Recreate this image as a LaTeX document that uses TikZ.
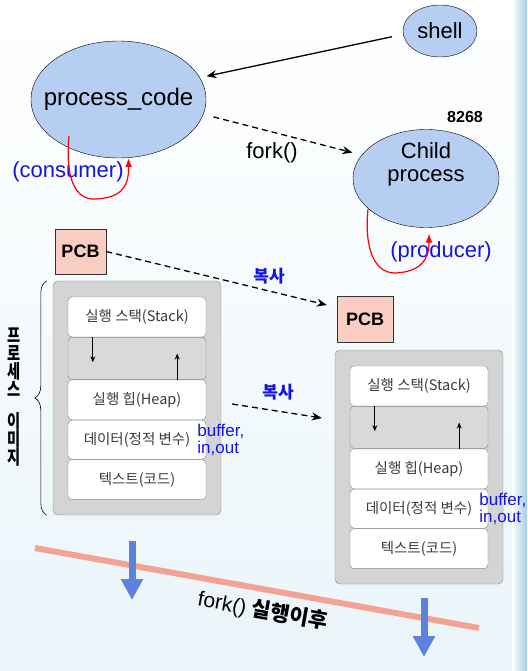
\documentclass[tikz,border=0pt]{standalone}
\usepackage{fontspec}
\setmainfont{Liberation Sans}
\newfontfamily\kr{Noto Sans CJK KR}
\usetikzlibrary{shapes.geometric,arrows.meta,positioning,decorations.pathreplacing}
\definecolor{procblue}{RGB}{182,206,242}
\definecolor{pcbpink}{RGB}{250,205,195}
\definecolor{txtblue}{RGB}{20,20,225}
\definecolor{salmon}{RGB}{244,162,146}
\definecolor{arrblue}{RGB}{92,130,222}
\definecolor{boxgray}{RGB}{212,212,212}
\definecolor{edgegray}{RGB}{135,135,135}
\definecolor{segtext}{RGB}{60,60,60}
\definecolor{bgblue}{RGB}{234,245,250}
\definecolor{stripblue}{RGB}{165,202,228}

\begin{document}
\begin{tikzpicture}[x=1pt,y=-1pt,
  proc/.style={ellipse, draw=black, fill=procblue, inner sep=0pt},
  big/.style={font=\fontsize{22}{23}\selectfont},
  lbl/.style={big, text=txtblue},
  pcb/.style={draw=black!80, fill=pcbpink, minimum width=51pt, minimum height=45pt, font=\fontsize{18}{20}\selectfont\bfseries},
  image/.style={draw=edgegray, fill=boxgray, rounded corners=5pt, minimum width=168pt, minimum height=234pt},
  seg/.style={draw=edgegray, fill=white, rounded corners=4pt, minimum width=138pt, inner sep=0pt, font=\kr\fontsize{14.5}{16}\selectfont, text=segtext},
  gapseg/.style={seg, fill=black!15},
  note/.style={text=txtblue, font=\fontsize{17}{16.5}\selectfont, align=left, inner sep=0pt},
  copylbl/.style={text=txtblue, font=\kr\bfseries\fontsize{17}{19}\selectfont},
  blk/.style={-{Stealth[length=10pt,width=8pt]}, line width=1.3pt},
  dsh/.style={-{Stealth[length=10pt,width=8pt]}, line width=1.3pt, dash pattern=on 6pt off 4pt},
  small/.style={-{Stealth[length=6pt,width=5pt]}, line width=.8pt},
  redloop/.style={red, line width=1.2pt, -{Latex[length=9pt,width=7pt]}}
]
\useasboundingbox (0,0) rectangle (527,671);
\shade[top color=white, bottom color=bgblue] (0,0) rectangle (527,671);
\shade[left color=white, right color=stripblue] (512,0) rectangle (527,671);

\node[proc, minimum width=74pt, minimum height=52pt, big] (shell) at (440,31) {shell};
\node[proc, minimum width=175pt, minimum height=117pt] (pc) at (118.5,99.5) {};
\node[font=\fontsize{24}{26}\selectfont] (pctxt) at (pc) {process\_code};
\node[proc, minimum width=146pt, minimum height=98pt] (child) at (426,178.5) {};
\node[big, align=center] (childtxt) at (426,164) {Child\\process};
\node[font=\bfseries\fontsize{16}{18}\selectfont] (pid) at (465,117) {8268};

\draw[blk, shorten <=49pt, shorten >=90pt] ([yshift=4.5pt]shell.center) -- ([yshift=4.5pt]pc.center);
\draw[dsh, shorten <=98pt, shorten >=76pt] ([yshift=7pt]pc.center) -- ([yshift=7pt]child.center);
\node[big] (fork) at (272,153) {fork()};

\node[lbl] (cons) at (68,172) {(consumer)};
\node[lbl] (prod) at (441,252) {(producer)};
\coordinate (consstart) at (69,136);
\coordinate (prodstart) at (368,209);
\draw[redloop] (consstart) .. controls (65,180) and (76,200) .. (95,199) .. controls (118,198) and (129,190) .. ([xshift=10pt]pc.south);
\draw[redloop] (prodstart) .. controls (364,250) and (375,273) .. (395,273) .. controls (418,272) and (429,262) .. ([shift={(3pt,-6pt)}]child.south);

\node[pcb] (pcbL) at (80.5,251.5) {PCB};
\node[pcb, minimum width=56pt, minimum height=46pt] (pcbR) at (365,319) {PCB};

\foreach \s/\ox/\oy in {L/53/281, R/335/350} {
  \node[image] (box\s) at (\ox+84,\oy+117) {};
  \node[seg, minimum height=40pt, below=16pt of box\s.north] (stack\s) {실행 스택(Stack)};
  \node[gapseg, minimum height=42pt, below=0pt of stack\s] (gap\s) {};
  \node[seg, minimum height=40pt, below=0pt of gap\s] (heap\s) {실행 힙(Heap)};
  \node[seg, minimum height=39pt, below=0pt of heap\s] (data\s) {데이터(정적 변수)};
  \node[seg, minimum height=40pt, below=0pt of data\s] (text\s) {텍스트(코드)};
  \draw[small] ([xshift=25pt]gap\s.north west) -- ++(0,25);
  \draw[small] ([xshift=-29pt]heap\s.north east) -- ++(0,-26);
  \node[note, anchor=west] (buf\s) at ([xshift=-9pt]data\s.east) {buffer,\\in,out};
}

\draw[dsh] (pcbL.east) -- ([xshift=-10pt,yshift=14pt]pcbR.west);
\node[copylbl] (copy1) at (269,276) {복사};
\draw[dsh] ([xshift=11pt,yshift=-6pt]boxL.east) -- ([xshift=-13pt,yshift=49pt]boxR.west);
\node[copylbl] (copy2) at (278,392) {복사};

\draw[decorate, decoration={brace, amplitude=12pt}, semithick] ([xshift=-6pt]boxL.south west) -- ([xshift=-6pt]boxL.north west);
\node[font=\kr\bfseries\fontsize{19}{18}\selectfont, align=center, xscale=.75, inner sep=0pt] (title) at (14,397) {프\\로\\세\\스\\[14pt]이\\미\\지};

\draw[salmon, line width=6pt] (35,548) -- (479,628);
\draw[arrblue, line width=7pt, -{Triangle[width=0pt 3, length=0pt 3]}] (132,541) -- (132,600);
\draw[arrblue, line width=7pt, -{Triangle[width=0pt 3, length=0pt 3]}] (424,598) -- (424,657);
\node[rotate=-10.3, font=\fontsize{21}{23}\selectfont] (after) at (263,611) {fork() {\kr\bfseries 실행이후}};
\end{tikzpicture}
\end{document}
